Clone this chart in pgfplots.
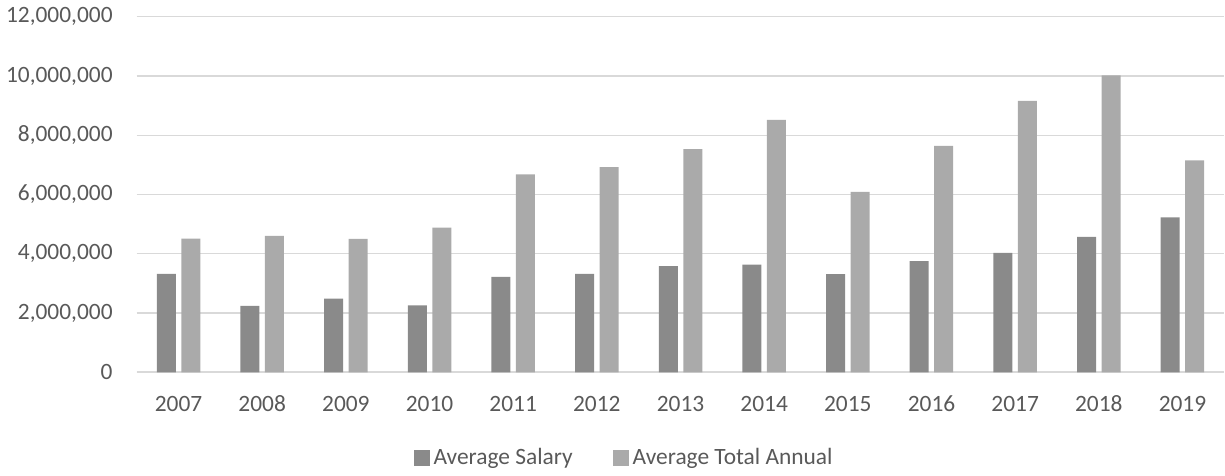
\documentclass[border=0pt]{standalone}
\usepackage{pgfplots}
\pgfplotsset{compat=1.18}
\usepackage{fontspec}
\setmainfont{Carlito}
\definecolor{salary}{HTML}{8A8A8A}
\definecolor{total}{HTML}{AAAAAA}
\definecolor{gridc}{HTML}{D9D9D9}
\definecolor{txt}{HTML}{595959}
\begin{document}
\begin{tikzpicture}
\begin{axis}[
  at={(0,0)}, anchor=south west,
  scale only axis, width=543.8pt, height=177.8pt,
  xmin=-0.5, xmax=12.5, ymin=0, ymax=12000000,
  ytick={0,2000000,4000000,6000000,8000000,10000000,12000000},
  xtick={0,1,2,3,4,5,6,7,8,9,10,11,12},
  xticklabels={2007,2008,2009,2010,2011,2012,2013,2014,2015,2016,2017,2018,2019},
  ybar=2.75pt, bar width=9.5pt,
  axis line style={draw=none},
  major tick length=0pt,
  ymajorgrids, grid style={gridc, line width=0.6pt},
  extra y ticks={0}, extra y tick labels={}, extra y tick style={grid style={gridc, line width=0.9pt}},
  scaled y ticks=false,
  /pgf/number format/fixed,
  /pgf/number format/1000 sep={,},
  /pgf/number format/assume math mode=true,
  every tick label/.append style={font=\fontsize{11.7}{14}\selectfont, text=txt},
  yticklabel style={anchor=east, inner sep=0pt, xshift=-11.85pt},
  xticklabel style={anchor=base, inner sep=0pt, yshift=-19.6pt},
  legend style={at={(0.449,-0.241)}, anchor=center, draw=none, fill=none,
    font=\fontsize{11.7}{14}\selectfont, text=txt,
    /tikz/every even column/.append style={column sep=18pt}},
  legend columns=2,
  legend image code/.code={\fill[#1] (0pt,-4pt) rectangle (8pt,4pt);},
]
\addplot[fill=salary, draw=none] coordinates {
(0,3320000) (1,2240000) (2,2490000) (3,2260000) (4,3220000) (5,3320000) (6,3580000)
(7,3630000) (8,3310000) (9,3750000) (10,4030000) (11,4570000) (12,5230000)};
\addplot[fill=total, draw=none] coordinates {
(0,4510000) (1,4600000) (2,4500000) (3,4880000) (4,6680000) (5,6920000) (6,7530000)
(7,8520000) (8,6090000) (9,7640000) (10,9160000) (11,10020000) (12,7150000)};
\legend{Average Salary, Average Total Annual}
\end{axis}
\pgfresetboundingbox
\path ([xshift=-68.35pt, yshift=-51.85pt]current axis.south west) rectangle ([xshift=0.35pt, yshift=8.35pt]current axis.north east);
\end{tikzpicture}
\end{document}
